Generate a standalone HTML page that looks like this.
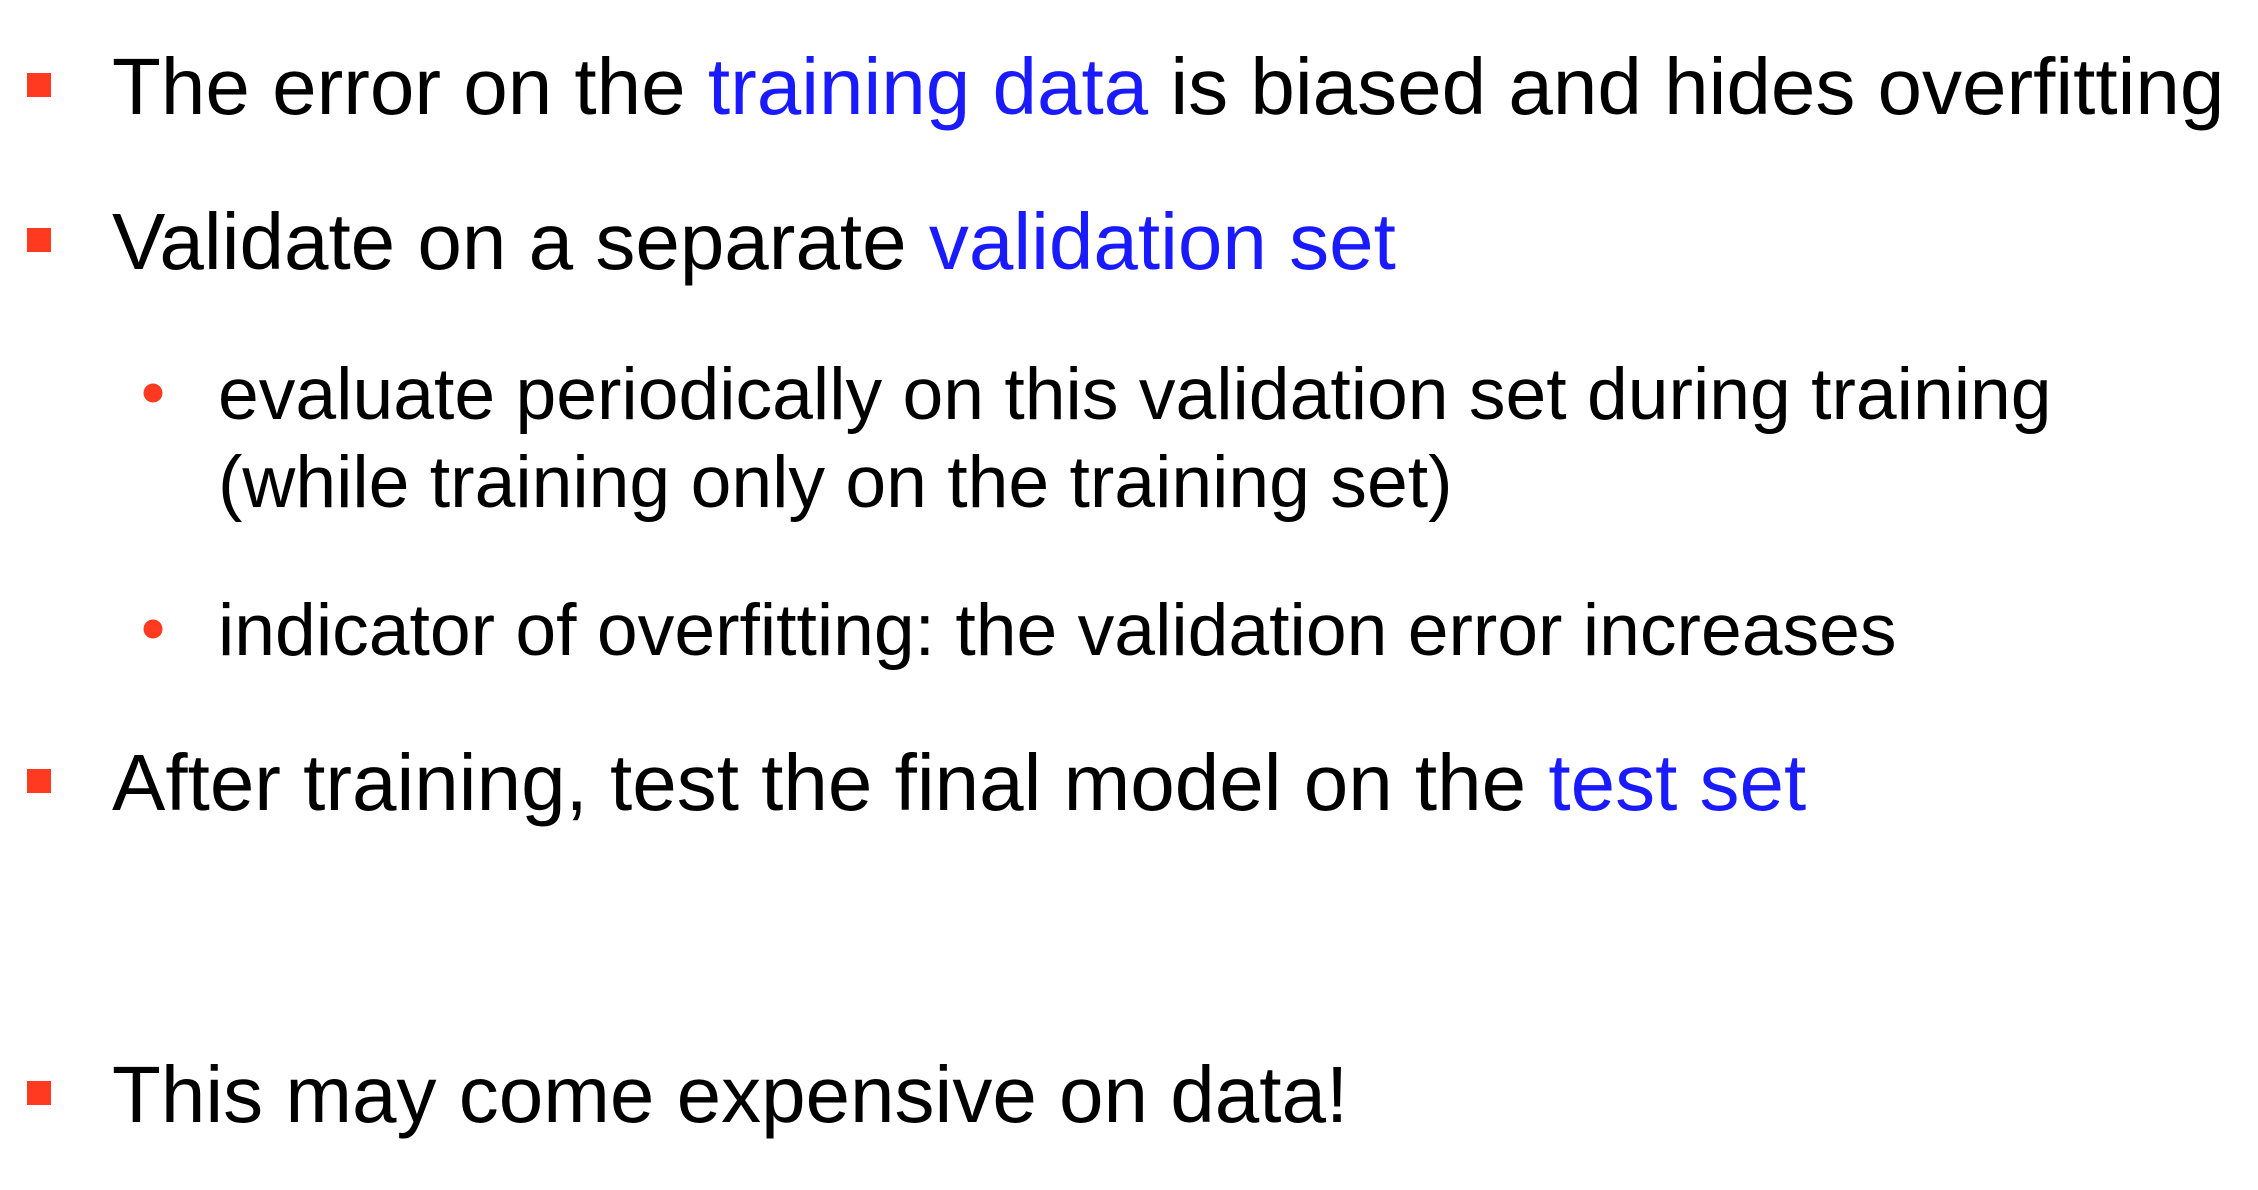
<!DOCTYPE html>
<html><head><meta charset="utf-8"><style>
html,body{margin:0;padding:0;background:#fff;width:2258px;height:1190px;overflow:hidden}
svg{display:block}
text{font-family:"Liberation Sans",Arial,sans-serif;fill:#000}
.b{fill:#1a1aff}
</style></head><body>
<svg width="2258" height="1190">
<rect x="27" y="73" width="24" height="24" fill="#ff3a20"/>
<text x="112" y="114" font-size="80">The error on the <tspan class="b">training data</tspan> is biased and hides overfitting</text>
<rect x="27" y="228" width="24" height="24" fill="#ff3a20"/>
<text x="112" y="269" font-size="80">Validate on a separate <tspan class="b">validation set</tspan></text>
<circle cx="153" cy="393" r="9.5" fill="#ff3a20"/>
<text x="218" y="419" font-size="73.3">evaluate periodically on this validation set during training</text>
<text x="218" y="507" font-size="73.3">(while training only on the training set)</text>
<circle cx="153" cy="629" r="9.5" fill="#ff3a20"/>
<text x="218" y="655" font-size="73.3">indicator of overfitting: the validation error increases</text>
<rect x="27" y="769" width="24" height="24" fill="#ff3a20"/>
<text x="112" y="810" font-size="80">After training, test the final model on the <tspan class="b">test set</tspan></text>
<rect x="27" y="1081" width="24" height="24" fill="#ff3a20"/>
<text x="112" y="1122" font-size="80">This may come expensive on data!</text>
</svg>
</body></html>
